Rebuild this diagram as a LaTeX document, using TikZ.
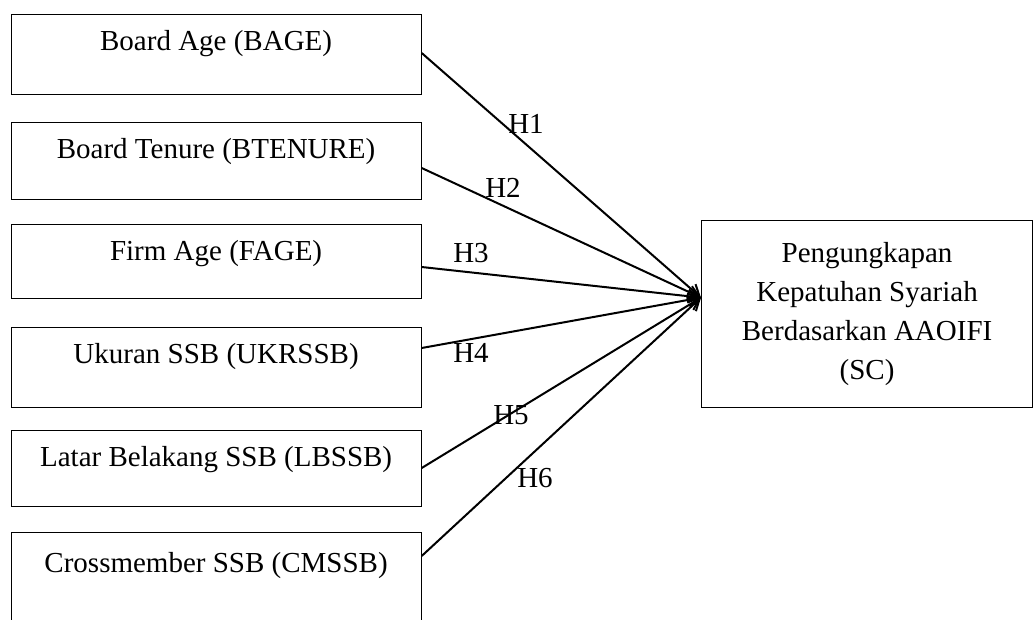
\documentclass[tikz,border=0pt]{standalone}
\usepackage{fontspec}
\setmainfont{Liberation Serif}
\usepackage{tikz}
\usetikzlibrary{arrows.meta}

\tikzset{
	varbox/.style={draw, line width=1.2pt, inner sep=0pt, minimum width=410pt, anchor=north west, text height=36pt, font=\fontsize{29}{35}\selectfont},
	hlabel/.style={inner sep=0pt, font=\fontsize{29}{35}\selectfont},
	conn/.style={line width=2pt, -{Straight Barb[length=11pt,width=13pt,line width=2pt]}}
}

\begin{document}
\begin{tikzpicture}[x=1pt, y=-1pt]
			\useasboundingbox (0,0) rectangle (1034,619);
			\clip (0,0) rectangle (1034,619);
			% independent variables
			\node[varbox, text depth=44pt] (bage) at (10.5,14) {Board Age (BAGE)};
			\node[varbox, text depth=41pt] (btenure) at (10.5,122) {Board Tenure (BTENURE)};
			\node[varbox, text depth=38pt] (fage) at (10.5,224) {Firm Age (FAGE)};
			\node[varbox, text depth=44pt] (ukrssb) at (10.5,327) {Ukuran SSB (UKRSSB)};
			\node[varbox, text depth=40pt] (lbssb) at (10.5,430) {Latar Belakang SSB (LBSSB)};
			\node[varbox, text height=40pt, text depth=80pt] (cmssb) at (10.5,532) {Crossmember SSB (CMSSB)};
			% dependent variable
			\node[draw, line width=1.2pt, anchor=north west, minimum width=331pt, minimum height=187pt, align=center, font=\fontsize{29}{39}\selectfont] (sc) at (701,220) {Pengungkapan\\Kepatuhan Syariah\\Berdasarkan AAOIFI\\(SC)};
			\draw[conn] ([yshift=-39pt]bage.north east) -- ([yshift=16.5pt]sc.west);
			\draw[conn] ([yshift=-46pt]btenure.north east) -- ([yshift=16.5pt]sc.west);
			\draw[conn] ([yshift=-43pt]fage.north east) -- ([yshift=16.5pt]sc.west);
			\draw[conn] ([yshift=-21pt]ukrssb.north east) -- ([yshift=16.5pt]sc.west);
			\draw[conn] ([yshift=-38pt]lbssb.north east) -- ([yshift=16.5pt]sc.west);
			\draw[conn] ([yshift=-24pt]cmssb.north east) -- ([yshift=16.5pt]sc.west);
			\node[hlabel] (h1) at (526,124) {H1};
			\node[hlabel] (h2) at (503,188) {H2};
			\node[hlabel] (h3) at (471,253) {H3};
			\node[hlabel] (h4) at (471,353) {H4};
			\node[hlabel] (h5) at (511,415) {H5};
			\node[hlabel] (h6) at (535,478) {H6};
		\end{tikzpicture}
\end{document}
